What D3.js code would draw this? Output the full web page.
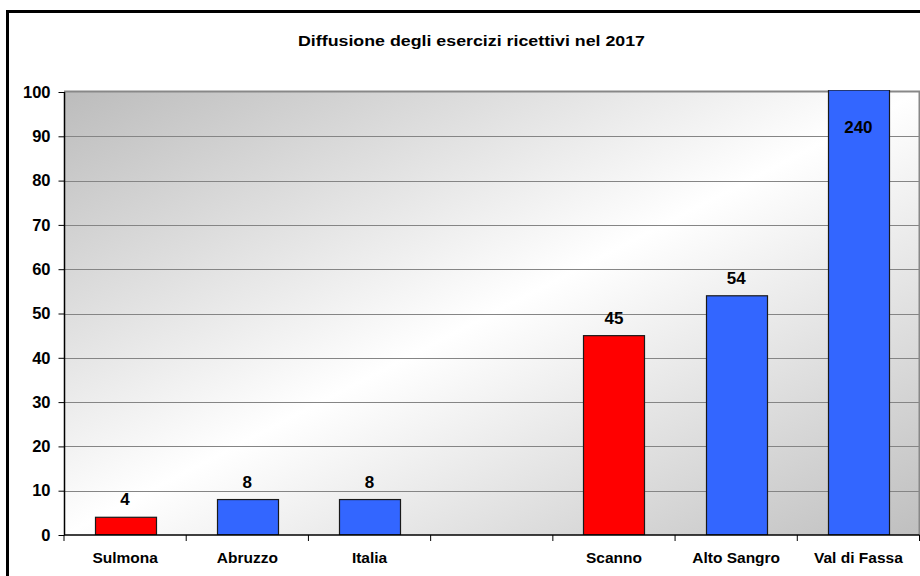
<!DOCTYPE html>
<html>
<head>
<meta charset="utf-8">
<script src="https://cdn.jsdelivr.net/npm/d3@7/dist/d3.min.js"></script>
<style>
  html, body { margin: 0; padding: 0; background: #fff; }
  svg { display: block; font-family: "Liberation Sans", Arial, sans-serif; }
</style>
</head>
<body>
<svg id="chart" width="920" height="576"></svg>
<script>
const title = "Diffusione degli esercizi ricettivi nel 2017";
const categories = ["Sulmona", "Abruzzo", "Italia", "", "Scanno", "Alto Sangro", "Val di Fassa"];
const values = [4, 8, 8, null, 45, 54, 240];
const highlighted = ["Sulmona", "Scanno"];
const yTicks = [0, 10, 20, 30, 40, 50, 60, 70, 80, 90, 100];
const yMax = 100;

const W = 920, H = 576;
const margin = { left: 64, right: 0.5, top: 92, bottom: 41 };
const svg = d3.select("#chart");

// outer chart border (extends beyond canvas on right/bottom)
svg.append("rect")
  .attr("x", 7.5).attr("y", 11.5)
  .attr("width", 1000).attr("height", 1000)
  .attr("fill", "#fff").attr("stroke", "#000").attr("stroke-width", 3);

svg.append("text")
  .attr("x", 471.5).attr("y", 46)
  .attr("text-anchor", "middle")
  .attr("font-size", 15.5).attr("font-weight", "bold")
  .attr("textLength", 347).attr("lengthAdjust", "spacingAndGlyphs")
  .text(title);

const x0 = margin.left, x1 = W - margin.right;
const y0 = H - margin.bottom, y1 = margin.top;

const x = d3.scaleBand().domain(categories.map((c, i) => i)).range([x0, x1]).paddingInner(0.5).paddingOuter(0.25);
const xb = d3.scaleBand().domain(categories.map((c, i) => i)).range([x0, x1]);
const y = d3.scaleLinear().domain([0, yMax]).range([y0, y1]);

const defs = svg.append("defs");
const grad = defs.append("linearGradient").attr("id", "bg")
  .attr("x1", 0).attr("y1", 0).attr("x2", 1).attr("y2", 1);
grad.append("stop").attr("offset", 0).attr("stop-color", "#bcbcbc");
grad.append("stop").attr("offset", 0.5).attr("stop-color", "#ffffff");
grad.append("stop").attr("offset", 1).attr("stop-color", "#bfbfbf");

defs.append("clipPath").attr("id", "clip").append("rect")
  .attr("x", x0).attr("y", y1 - 2).attr("width", x1 - x0).attr("height", y0 - y1 + 2);

svg.append("rect")
  .attr("x", x0).attr("y", y1).attr("width", x1 - x0).attr("height", y0 - y1)
  .attr("fill", "url(#bg)");

// gridlines
svg.append("g").selectAll("line").data(yTicks.filter(t => t > 0 && t < yMax)).join("line")
  .attr("x1", x0).attr("x2", x1)
  .attr("y1", d => Math.round(y(d)) + 0.5).attr("y2", d => Math.round(y(d)) + 0.5)
  .attr("stroke", "#858585").attr("stroke-width", 1);

// plot area border (top/right)
svg.append("path")
  .attr("d", `M${x0},${y1 - 0.5}H${x1}V${y0}`)
  .attr("fill", "none").attr("stroke", "#888").attr("stroke-width", 2);

// bars
const data = categories.map((c, i) => ({ c, i, v: values[i] })).filter(d => d.v != null);
svg.append("g").attr("clip-path", "url(#clip)").selectAll("rect").data(data).join("rect")
  .attr("x", d => Math.round(x(d.i)) + 0.5)
  .attr("width", Math.round(x.bandwidth()))
  .attr("y", d => d.v > yMax ? y1 - 2 : y(d.v))
  .attr("height", d => y0 - (d.v > yMax ? y1 - 2 : y(d.v)))
  .attr("fill", d => highlighted.includes(d.c) ? "#ff0000" : "#3366ff")
  .attr("stroke", "#1a1a1a").attr("stroke-width", 1.2);

// value labels
svg.append("g").selectAll("text").data(data).join("text")
  .attr("x", d => x(d.i) + x.bandwidth() / 2)
  .attr("y", d => d.v > yMax ? y1 + 41 : y(d.v) - 12)
  .attr("text-anchor", "middle")
  .attr("font-size", 17).attr("font-weight", "bold").attr("fill", "#000")
  .text(d => d.v);

// y axis
const yAxis = d3.axisLeft(y).tickValues(yTicks).tickSize(6).tickPadding(8).tickFormat(d3.format("d"));
const gy = svg.append("g").attr("transform", `translate(${x0 + 0.5},0)`).call(yAxis);
gy.select(".domain").attr("stroke", "#000").attr("stroke-width", 1.5).attr("d", `M0,${y1}V${y0}`);
gy.selectAll(".tick line").attr("stroke", "#000");
gy.selectAll(".tick text").attr("font-size", 16.5).attr("font-weight", "bold")
  .attr("font-family", "'Liberation Sans', Arial, sans-serif").attr("fill", "#000");

// x axis
const xAxis = d3.axisBottom(xb).tickSize(0).tickPadding(17).tickFormat(i => categories[i]);
const gx = svg.append("g").attr("transform", `translate(0,${y0})`).call(xAxis);
gx.select(".domain").attr("stroke", "#000").attr("stroke-width", 1.5).attr("d", `M${x0},0H${x1}`);
gx.selectAll(".tick text").attr("font-size", 15.5).attr("font-weight", "bold")
  .attr("font-family", "'Liberation Sans', Arial, sans-serif").attr("fill", "#000");
// category boundary tick marks
gx.append("g").selectAll("line").data(d3.range(categories.length + 1)).join("line")
  .attr("x1", i => x0 + i * xb.step()).attr("x2", i => x0 + i * xb.step())
  .attr("y1", 0).attr("y2", 6).attr("stroke", "#000").attr("stroke-width", 1);
</script>
</body>
</html>
